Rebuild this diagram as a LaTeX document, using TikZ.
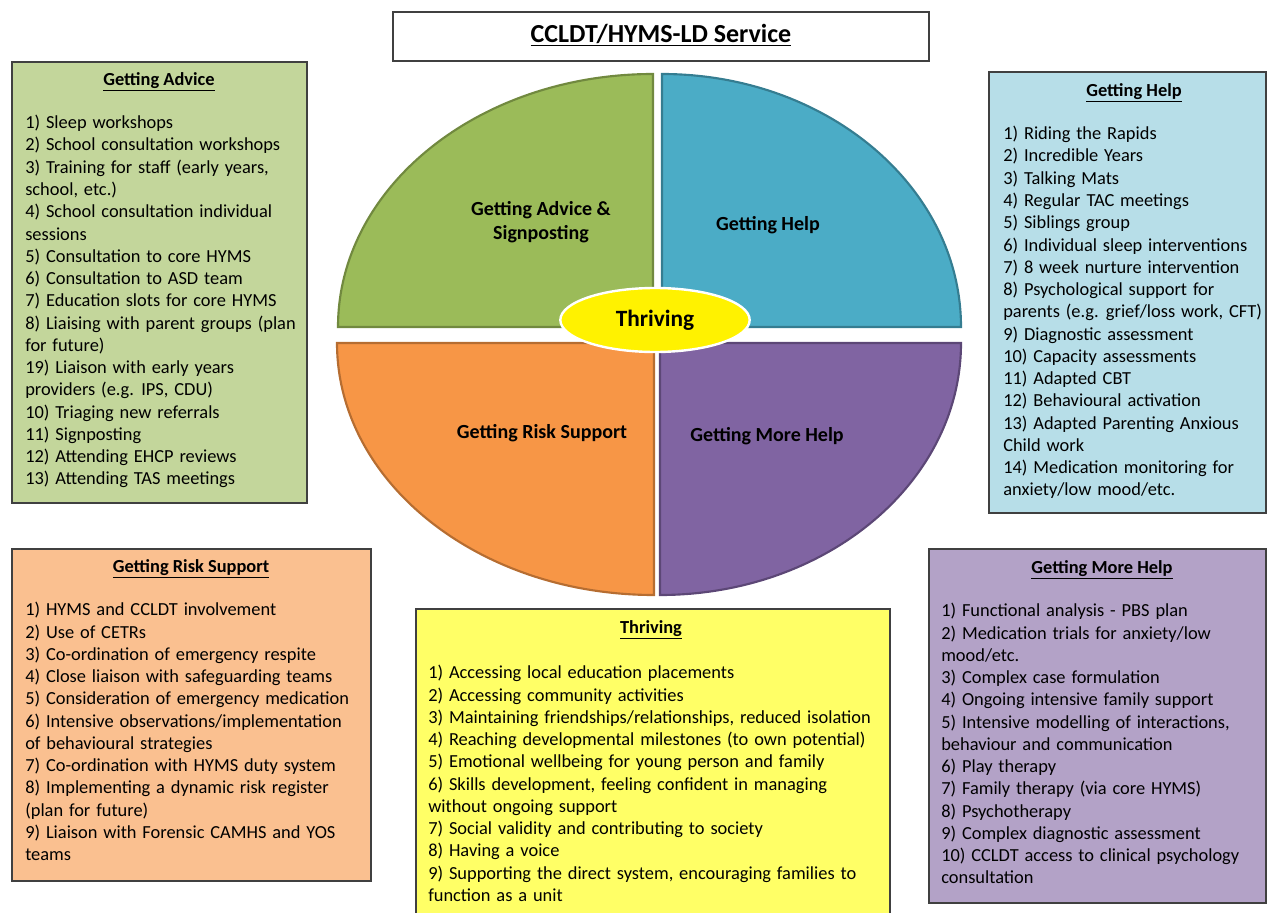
\documentclass[tikz,border=0pt]{standalone}
\usepackage{fontspec}
\setmainfont{Carlito}
\usepackage{xcolor}
\usetikzlibrary{shapes.geometric, positioning}

\definecolor{advquad}{HTML}{9BBB59}
\definecolor{advquadline}{HTML}{71893F}
\definecolor{helpquad}{HTML}{4BACC6}
\definecolor{helpquadline}{HTML}{357D91}
\definecolor{riskquad}{HTML}{F79646}
\definecolor{riskquadline}{HTML}{B66D31}
\definecolor{morequad}{HTML}{8064A2}
\definecolor{morequadline}{HTML}{5C4776}
\definecolor{advfill}{HTML}{C3D69B}
\definecolor{helpfill}{HTML}{B7DEE8}
\definecolor{riskfill}{HTML}{FAC090}
\definecolor{thrivefill}{HTML}{FFFF66}
\definecolor{morefill}{HTML}{B3A2C7}
\definecolor{boxline}{HTML}{404040}

\newcommand{\listfont}{\fontsize{13.8}{16.7}\selectfont\spaceskip=4.4pt plus 1pt minus 0pt\relax}

\tikzset{
  listbox/.style={draw=boxline, line width=1.1pt},
  quarter/.style={line width=1.6pt},
  listhead/.style={font=\fontsize{13.8}{16.7}\selectfont\bfseries, inner sep=0pt},
  listtext/.style={font=\listfont, align=left, inner sep=0pt, anchor=north west},
  quartlabel/.style={font=\fontsize{15}{18}\selectfont\bfseries, align=center, inner sep=0pt},
}

\begin{document}
\begin{tikzpicture}[x=0.75pt, y=-0.75pt]
  \useasboundingbox (0,0) rectangle (1267,913);
  \clip (0,0) rectangle (1267,913);

  % title
  \draw[listbox, fill=white] (393,12) rectangle (929,61);
  \node[font=\fontsize{19.5}{22}\selectfont\bfseries, inner sep=0pt] (title) at (661,35) {\underline{CCLDT/HYMS-LD Service}};

  % the four quarters
  \filldraw[quarter, fill=advquad, draw=advquadline] (653,327) -- (338,327)
    arc[start angle=180, end angle=270, x radius=315, y radius=253] -- cycle;
  \filldraw[quarter, fill=helpquad, draw=helpquadline] (662,327) -- (662,74)
    arc[start angle=270, end angle=360, x radius=299, y radius=253] -- cycle;
  \filldraw[quarter, fill=riskquad, draw=riskquadline] (654,343) -- (337,343)
    arc[start angle=180, end angle=90, x radius=317, y radius=252] -- cycle;
  \filldraw[quarter, fill=morequad, draw=morequadline] (660,343) -- (660,595)
    arc[start angle=90, end angle=0, x radius=301, y radius=252] -- cycle;

  \node[quartlabel] (advq) at (541,222) {Getting Advice \&\\Signposting};
  \node[quartlabel] (helpq) at (768,225) {Getting Help};
  \node[quartlabel] (riskq) at (542,433) {Getting Risk Support};
  \node[quartlabel] (moreq) at (767,436) {Getting More Help};
  \node[ellipse, fill=yellow, draw=white, line width=1.8pt, minimum width=142pt, minimum height=48pt,
        font=\fontsize{17.5}{20}\selectfont\bfseries] (thrive) at (655,320) {Thriving};

  % Getting Advice
  \draw[listbox, fill=advfill] (12,62) rectangle (307,503);
  \node[listhead] (advhead) at (159,82) {\underline{Getting Advice}};
  \node[listtext] (advlist) at (25,115) {1) Sleep workshops\\
    2) School consultation workshops\\
    3) Training for staff (early years,\\
    school, etc.)\\
    4) School consultation individual\\
    sessions\\
    5) Consultation to core HYMS\\
    6) Consultation to ASD team\\
    7) Education slots for core HYMS\\
    8) Liaising with parent groups (plan\\
    for future)\\
    19) Liaison with early years\\
    providers (e.g. IPS, CDU)\\
    10) Triaging new referrals\\
    11) Signposting\\
    12) Attending EHCP reviews\\
    13) Attending TAS meetings};

  % Getting Help
  \draw[listbox, fill=helpfill] (989,72) rectangle (1266,513);
  \node[listhead] (helphead) at (1134,93) {\underline{Getting Help}};
  \node[listtext] (helplist) at (1003,126) {1) Riding the Rapids\\
    2) Incredible Years\\
    3) Talking Mats\\
    4) Regular TAC meetings\\
    5) Siblings group\\
    6) Individual sleep interventions\\
    7) 8 week nurture intervention\\
    8) Psychological support for\\
    parents (e.g. grief/loss work, CFT)\\
    9) Diagnostic assessment\\
    10) Capacity assessments\\
    11) Adapted CBT\\
    12) Behavioural activation\\
    13) Adapted Parenting Anxious\\
    Child work\\
    14) Medication monitoring for\\
    anxiety/low mood/etc.};

  % Getting Risk Support
  \draw[listbox, fill=riskfill] (12,549) rectangle (371,881);
  \node[listhead] (riskhead) at (191,569) {\underline{Getting Risk Support}};
  \node[listtext] (risklist) at (25,602) {1) HYMS and CCLDT involvement\\
    2) Use of CETRs\\
    3) Co-ordination of emergency respite\\
    4) Close liaison with safeguarding teams\\
    5) Consideration of emergency medication\\
    6) Intensive observations/implementation\\
    of behavioural strategies\\
    7) Co-ordination with HYMS duty system\\
    8) Implementing a dynamic risk register\\
    (plan for future)\\
    9) Liaison with Forensic CAMHS and YOS\\
    teams};

  % Thriving
  \draw[listbox, fill=thrivefill] (416,609) rectangle (890,930);
  \node[listhead] (thrivehead) at (651,630) {\underline{Thriving}};
  \node[listtext] (thrivelist) at (428,665) {1) Accessing local education placements\\
    2) Accessing community activities\\
    3) Maintaining friendships/relationships, reduced isolation\\
    4) Reaching developmental milestones (to own potential)\\
    5) Emotional wellbeing for young person and family\\
    6) Skills development, feeling confident in managing\\
    without ongoing support\\
    7) Social validity and contributing to society\\
    8) Having a voice\\
    9) Supporting the direct system, encouraging families to\\
    function as a unit};

  % Getting More Help
  \draw[listbox, fill=morefill] (929,549) rectangle (1266,903);
  \node[listhead] (morehead) at (1102,570) {\underline{Getting More Help}};
  \node[listtext] (morelist) at (941,603) {1) Functional analysis - PBS plan\\
    2) Medication trials for anxiety/low\\
    mood/etc.\\
    3) Complex case formulation\\
    4) Ongoing intensive family support\\
    5) Intensive modelling of interactions,\\
    behaviour and communication\\
    6) Play therapy\\
    7) Family therapy (via core HYMS)\\
    8) Psychotherapy\\
    9) Complex diagnostic assessment\\
    10) CCLDT access to clinical psychology\\
    consultation};
\end{tikzpicture}
\end{document}
